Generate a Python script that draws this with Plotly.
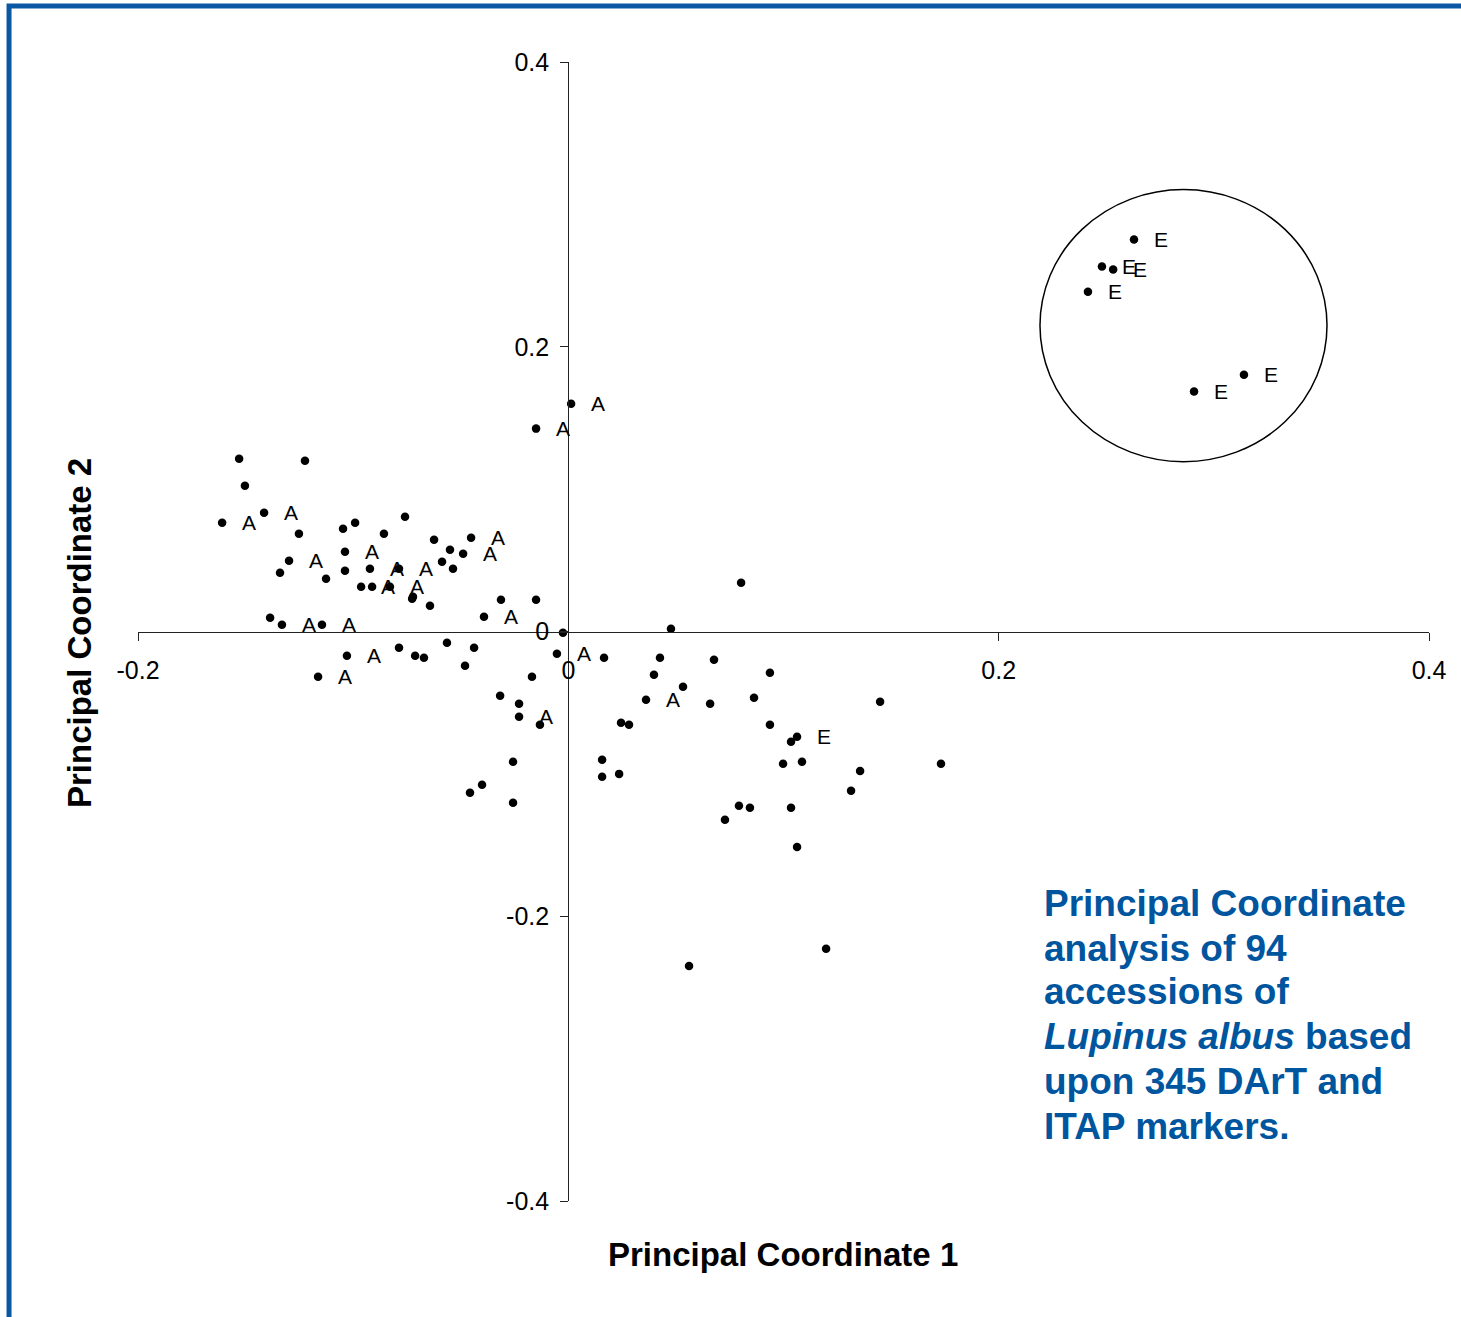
import plotly.graph_objects as go

# ---- data ----
pc1 = [-0.1530, -0.1224, -0.1503, -0.1609, -0.1414, -0.1252, -0.1298, -0.1340, -0.1126, -0.1047,
       -0.0991, -0.1038, -0.1038, -0.0922, -0.0963, -0.0912, -0.0857, -0.0759, -0.0624, -0.0452,
       -0.0550, -0.0489, -0.0587, -0.0536, -0.0787, -0.0829, -0.0726, -0.0722, -0.0643, -0.0392,
       -0.0313, -0.0150, -0.0025, -0.1386, -0.1331, -0.1145, -0.1029, -0.1163, -0.0787, -0.0712,
       -0.0671, -0.0564, -0.0480, -0.0438, -0.0053, -0.0169, -0.0317, -0.0229, -0.0229, -0.0132,
       -0.0257, -0.0401, -0.0457, -0.0257, 0.0013, -0.0150,
       0.0166, 0.0426, 0.0477, 0.0803, 0.0677, 0.0937, 0.0398, 0.0533, 0.0361, 0.0659,
       0.0863, 0.0245, 0.0282, 0.0157, 0.0157, 0.0236, 0.0937, 0.1063, 0.1035, 0.1449,
       0.0998, 0.1086, 0.1356, 0.1732, 0.1314, 0.0793, 0.0844, 0.1035, 0.0728, 0.1063,
       0.1198, 0.0561,
       0.2629, 0.2480, 0.2532, 0.2415, 0.3140, 0.2908]
pc2 = [0.1214, 0.1200, 0.1024, 0.0764, 0.0834, 0.0687, 0.0497, 0.0413, 0.0371, 0.0722,
       0.0764, 0.0560, 0.0427, 0.0441, 0.0314, 0.0314, 0.0687, 0.0806, 0.0645, 0.0659,
       0.0574, 0.0546, 0.0490, 0.0441, 0.0441, 0.0314, 0.0230, 0.0244, 0.0181, 0.0104,
       0.0223, 0.0223, -0.0009, 0.0097, 0.0047, 0.0047, -0.0170, -0.0318, -0.0114, -0.0170,
       -0.0184, -0.0079, -0.0241, -0.0114, -0.0156, -0.0318, -0.0451, -0.0508, -0.0599, -0.0655,
       -0.0915, -0.1077, -0.1133, -0.1203, 0.1600, 0.1425,
       -0.0184, -0.0184, 0.0019, 0.0343, -0.0199, -0.0290, -0.0304, -0.0388, -0.0480, -0.0508,
       -0.0466, -0.0641, -0.0655, -0.0901, -0.1021, -0.1000, -0.0655, -0.0740, -0.0775, -0.0494,
       -0.0929, -0.0915, -0.0979, -0.0929, -0.1119, -0.1224, -0.1238, -0.1238, -0.1323, -0.1513,
       -0.2229, -0.2349,
       0.2753, 0.2563, 0.2542, 0.2387, 0.1804, 0.1685]
group_label = ["", "", "", "A", "A", "", "A", "", "", "",
               "", "A", "", "A", "A", "", "", "", "", "A",
               "", "A", "", "", "A", "A", "", "", "", "A",
               "", "", "", "", "A", "A", "A", "A", "", "",
               "", "", "", "", "A", "", "", "", "A", "",
               "", "", "", "", "A", "A",
               "", "", "", "", "", "", "", "", "A", "",
               "", "", "", "", "", "", "", "E", "", "",
               "", "", "", "", "", "", "", "", "", "",
               "", "",
               "E", "E", "E", "E", "E", "E"]

x_ticks = [-0.2, 0, 0.2, 0.4]
x_tick_text = ["-0.2", "0", "0.2", "0.4"]
y_ticks = [-0.4, -0.2, 0, 0.2, 0.4]
y_tick_text = ["-0.4", "-0.2", "0", "0.2", "0.4"]

# circle around group E (data bounds)
circle_x = [0.2192, 0.3526]
circle_y = [0.1193, 0.3104]

caption_lines = ["<b>Principal Coordinate</b>",
                 "<b>analysis of 94</b>",
                 "<b>accessions of</b>",
                 "<b><i>Lupinus albus</i> based</b>",
                 "<b>upon 345 DArT and</b>",
                 "<b>ITAP markers.</b>"]

FONT = "Liberation Sans, Arial, sans-serif"
BLUE = "#00559F"

fig = go.Figure()
fig.add_trace(go.Scatter(
    x=pc1, y=pc2, mode="markers",
    marker=dict(color="black", size=8.5),
    hoverinfo="skip", showlegend=False))

annotations = []
for xv, yv, lab in zip(pc1, pc2, group_label):
    if lab:
        annotations.append(dict(x=xv, y=yv, xref="x", yref="y", text=lab,
                                showarrow=False, xanchor="center", yanchor="middle",
                                xshift=27, font=dict(family=FONT, size=21, color="black")))

# axis titles
annotations.append(dict(x=0.4996, y=-0.0474, xref="paper", yref="paper",
                        text="<b>Principal Coordinate 1</b>", showarrow=False,
                        xanchor="center", yanchor="middle",
                        font=dict(family=FONT, size=33, color="black")))
annotations.append(dict(x=-0.0449, y=0.4987, xref="paper", yref="paper",
                        text="<b>Principal Coordinate 2</b>", showarrow=False,
                        textangle=-90, xanchor="center", yanchor="middle",
                        font=dict(family=FONT, size=33, color="black")))

cap_y = [0.2616, 0.2221, 0.1835, 0.1440, 0.1045, 0.0658]
for yy, line in zip(cap_y, caption_lines):
    annotations.append(dict(x=0.7003, y=yy, xref="paper", yref="paper", text=line,
                            showarrow=False, xanchor="left", yanchor="middle",
                            font=dict(family=FONT, size=37, color=BLUE)))

shapes = [
    dict(type="circle", xref="x", yref="y", x0=circle_x[0], x1=circle_x[1],
         y0=circle_y[0], y1=circle_y[1], line=dict(color="black", width=1.5)),
    dict(type="rect", xref="paper", yref="paper", x0=-0.0999, x1=1.04,
         y0=-0.12, y1=1.0492, line=dict(color="#0A58A3", width=5), layer="above"),
]

axis_common = dict(showline=True, linecolor="#222222", linewidth=1.3,
                   ticks="outside", ticklen=8, tickcolor="#222222", tickwidth=1.3,
                   showgrid=False, zeroline=False,
                   tickfont=dict(family=FONT, size=25, color="black"))

fig.update_layout(
    width=1461, height=1317,
    margin=dict(l=138, r=32, t=62, b=116),
    paper_bgcolor="white", plot_bgcolor="white",
    xaxis=dict(range=[-0.2, 0.4], tickvals=x_ticks, ticktext=x_tick_text,
               anchor="free", position=0.5, ticklabelstandoff=8, **axis_common),
    yaxis=dict(range=[-0.4, 0.4], tickvals=y_ticks, ticktext=y_tick_text,
               anchor="free", position=1/3, ticklabelstandoff=6, **axis_common),
    annotations=annotations,
    shapes=shapes,
    showlegend=False,
)

fig.write_html("out.html",
               config={"displayModeBar": False},
               post_script="document.body.style.margin='0';document.body.style.overflow='hidden';")
